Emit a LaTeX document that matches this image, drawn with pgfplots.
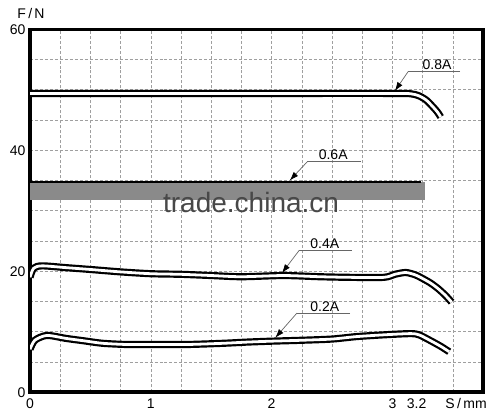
\documentclass[border=0pt]{standalone}
\usepackage{fontspec}
\setmainfont{Liberation Sans}
\usepackage{pgfplots}
\pgfplotsset{compat=1.18}
\usetikzlibrary{arrows.meta}

% curves: S in mm, F in N
\definecolor{band}{RGB}{138,138,138}
\definecolor{mark}{RGB}{72,72,72}
\tikzset{
    curve/.style={black, line width=2.2pt, double=white, double distance=2.8pt, smooth, tension=0.45},
    lead/.style={gray!80!black, line width=0.7pt},
    tip/.style={lead, -{Latex[length=9pt, width=6pt, black]}},
    lab/.style={anchor=south, inner sep=1.5pt},
}

\begin{document}
\begin{tikzpicture}[font=\fontsize{14bp}{16bp}\selectfont]
\begin{axis}[
    scale only axis,
    width=453bp, height=363bp,
    xmin=0, xmax=3.75,
    ymin=0, ymax=60,
    xtick={0,1,2,3,3.2},
    xticklabels={0,1,2,3,3.2},
    ytick={0,20,40,60},
    minor xtick={0.25,0.5,...,3.5},
    minor ytick={5,10,...,55},
    xminorgrids=true, yminorgrids=true, ymajorgrids=true,
    grid style={gray!75, line width=0.6pt, dash pattern=on 3pt off 2pt},
    minor grid style={gray!75, line width=0.6pt, dash pattern=on 3pt off 2pt},
    major tick length=0pt, minor tick length=0pt,
    separate axis lines,
    axis line style={line width=3.6pt, black, line cap=rect},
    /pgf/number format/assume math mode=true,
    xticklabel style={yshift=-3bp},
    yticklabel style={xshift=-1bp},
]
% 0.8A
\addplot[curve] coordinates {
(0,49.4) (1,49.4) (2,49.4) (3.0,49.4) (3.15,49.35) (3.22,49.0)
(3.28,48.3) (3.33,47.3) (3.37,46.4) (3.40,45.5)
};

% watermark band behind the 0.6A line
\fill[band] (axis cs:0,34.8) rectangle (axis cs:3.27,31.8);
\node[text=mark, font=\fontsize{28bp}{30bp}\selectfont]
  at (axis cs:1.83,31.3) {trade.china.cn};

% 0.6A
\addplot[black, line width=1.6pt] coordinates {
(0,34.8) (1,34.8) (2,34.8) (3,34.8) (3.24,34.8)
};

% 0.4A
\addplot[curve] coordinates {
(0,19.0) (0.03,20.5) (0.1,20.9) (0.3,20.6) (0.5,20.3) (0.75,19.9)
(1.0,19.6) (1.25,19.5) (1.5,19.3) (1.75,19.1) (2.1,19.3)
(2.4,19.1) (2.65,19.0) (2.93,19.0) (3.02,19.5) (3.11,19.8)
(3.19,19.4) (3.26,18.7) (3.32,18.0) (3.38,17.1) (3.44,16.0) (3.49,14.9)
};

% 0.2A
\addplot[curve] coordinates {
(0,7.1) (0.04,8.6) (0.14,9.4) (0.3,8.9) (0.45,8.5) (0.6,8.1) (0.8,7.9)
(1.0,7.9) (1.3,7.9) (1.6,8.1) (1.8,8.3) (2.0,8.45) (2.25,8.6) (2.5,8.8)
(2.7,9.2) (2.93,9.5) (3.15,9.7) (3.22,9.5) (3.3,8.7) (3.4,7.6) (3.47,6.7)
};

% leaders and labels
\draw[lead] (axis cs:3.56,53.0) -- (axis cs:3.13,53.0);
\draw[tip] (axis cs:3.13,53.0) -- (axis cs:3.02,49.8);
\node[lab] at (axis cs:3.37,53.0) {0.8A};

\draw[lead] (axis cs:2.74,38.1) -- (axis cs:2.295,38.1);
\draw[tip] (axis cs:2.295,38.1) -- (axis cs:2.15,35.0);
\node[lab] at (axis cs:2.51,38.1) {0.6A};

\draw[lead] (axis cs:2.665,23.5) -- (axis cs:2.23,23.5);
\draw[tip] (axis cs:2.23,23.5) -- (axis cs:2.085,19.7);
\node[lab] at (axis cs:2.44,23.5) {0.4A};

\draw[lead] (axis cs:2.65,13.1) -- (axis cs:2.21,13.1);
\draw[tip] (axis cs:2.21,13.1) -- (axis cs:2.03,9.0);
\node[lab] at (axis cs:2.44,13.1) {0.2A};
\end{axis}
\node[anchor=north] at ([xshift={3.61*453bp/3.75}, yshift=-3bp]current axis.south west) {S\,/\,mm};
\node[anchor=south] at ([xshift=1bp, yshift=7bp]current axis.north west) {F\,/\,N};
\path ([shift={(-30bp,-26.3bp)}]current axis.south west)
  rectangle ([shift={(17bp,29.3bp)}]current axis.north east);
\end{tikzpicture}
\end{document}
